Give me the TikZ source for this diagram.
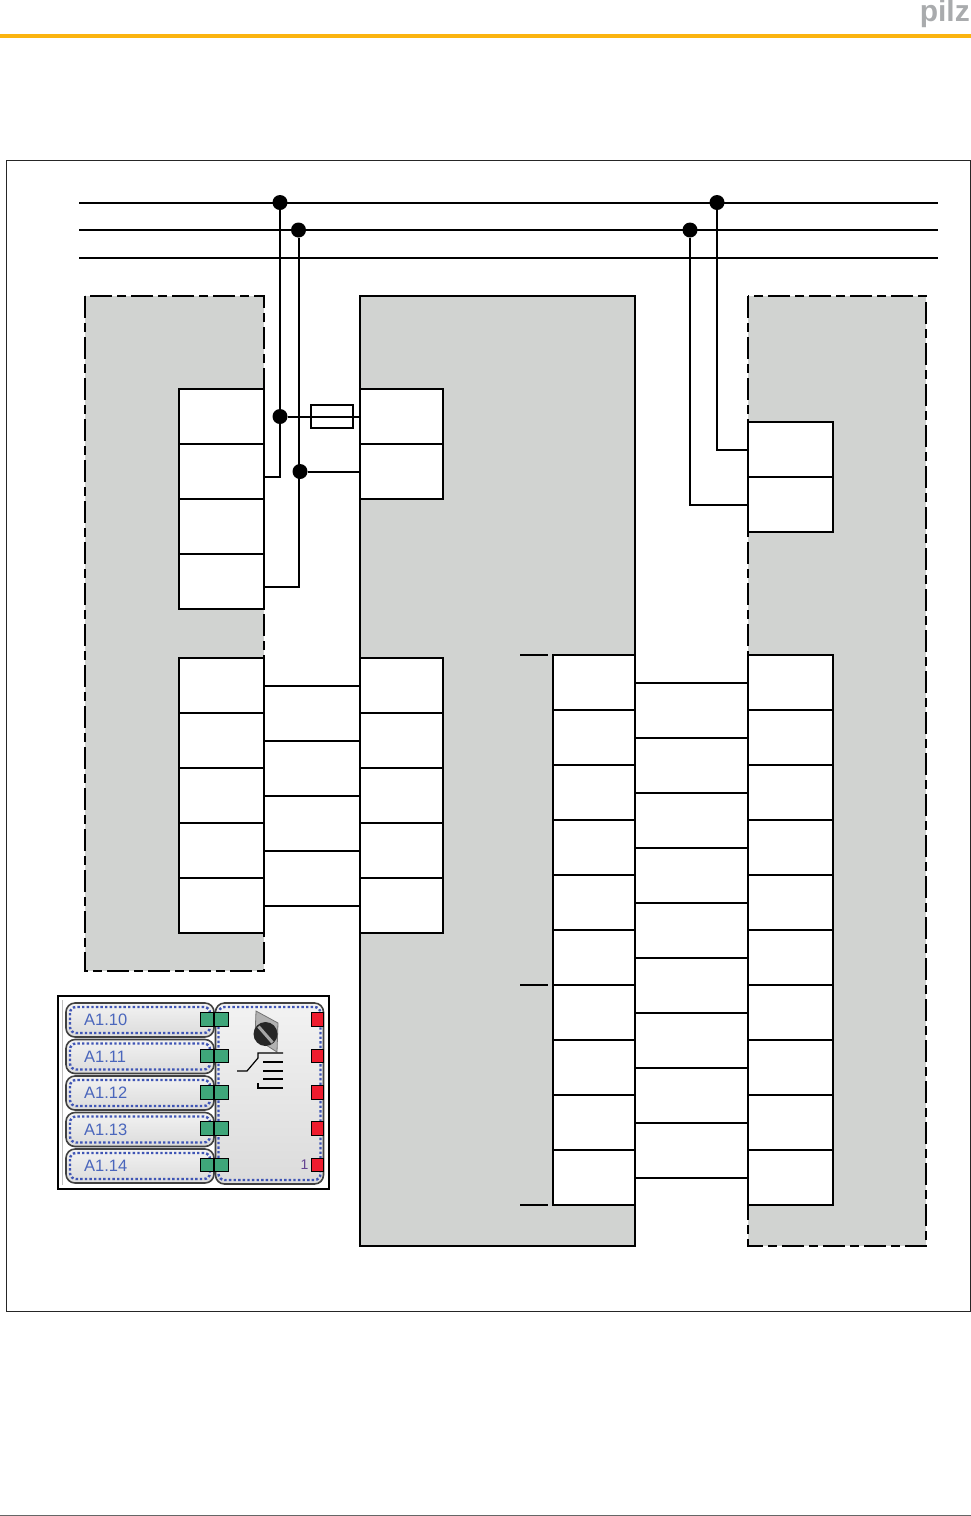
\documentclass[tikz,border=0pt]{standalone}
\usepackage{fontspec}
\setmainfont{Liberation Sans}
\definecolor{panelgray}{HTML}{D1D3D1}
\definecolor{pilzorange}{HTML}{FBB40F}
\definecolor{pilzgray}{HTML}{A9ABAD}
\definecolor{dotblue}{HTML}{3F55B5}
\definecolor{tagblue}{HTML}{4A66BC}
\definecolor{padgreen}{HTML}{3FA67A}
\definecolor{padred}{HTML}{EE1C2E}
\usetikzlibrary{positioning}
\tikzset{
  cell/.style={draw,line width=2pt,fill=white,minimum height=55pt,inner sep=0pt,outer sep=0pt},
  nwide/.style={cell,minimum width=85pt},
  nnarrow/.style={cell,minimum width=83pt},
  wire/.style={line width=2pt},
  junction/.style={circle,fill=black,inner sep=0pt,minimum size=15pt},
  panel/.style={fill=panelgray,line width=2.4pt},
  dashdot/.style={panel,dash pattern=on 22pt off 5pt on 9pt off 5pt},
  pill/.style={draw=black!75,line width=1.6pt,rounded corners=9pt,inner sep=0pt,outer sep=0pt,
    top color=white!95!black,bottom color=black!14},
  dotline/.style={draw=dotblue,line width=2.4pt,rounded corners=6pt,dash pattern=on 2.4pt off 2.2pt},
  pad/.style={draw=black,line width=1pt,inner sep=0pt,minimum size=13.5pt},
}
\begin{document}
\begin{tikzpicture}[x=1pt,y=-1pt]
  \useasboundingbox (0,0) rectangle (971,1516);
  % page furniture
  \fill[pilzorange] (0,33.5) rectangle (971,38);
  \draw[black!60,line width=1pt] (0,1515) -- (971,1515);
  \node[text=pilzgray,font=\bfseries\fontsize{30}{30}\selectfont,inner sep=0pt,anchor=base east] (logo) at (970,21.5) {pilz};
  \draw[black!85,line width=1pt] (6.5,160.5) rectangle (970.5,1311.5);

  % panels
  \draw[dashdot] (85,296) rectangle (264,971);
  \draw[panel] (360,296) rectangle (635,1246);
  \draw[dashdot] (748,296) rectangle (926,1246);

  % terminals
  \foreach \i in {1,...,4}
    \node[nwide] (lt\i) at (221.5,{389+55*(\i-.5)}) {};
  \foreach \i in {1,2}
    \node[nnarrow] (ct\i) at (401.5,{389+55*(\i-.5)}) {};
  \foreach \i in {1,2}
    \node[nwide] (rt\i) at (790.5,{422+55*(\i-.5)}) {};
  \foreach \i in {1,...,5} {
    \node[nwide] (ll\i) at (221.5,{658+55*(\i-.5)}) {};
    \node[nnarrow] (cl\i) at (401.5,{658+55*(\i-.5)}) {};
    \draw[wire] (ll\i.east) -- (cl\i.west);
  }
  \foreach \i in {1,...,10} {
    \node[nnarrow,minimum width=82pt] (col\i) at (594,{655+55*(\i-.5)}) {};
    \node[nwide] (rl\i) at (790.5,{655+55*(\i-.5)}) {};
    \draw[wire] (col\i.east) -- (rl\i.west);
  }

  % ticks left of the column
  \draw[wire] ([xshift=-33pt]col1.north west) -- ([xshift=-5pt]col1.north west);
  \draw[wire] ([xshift=-33pt]col7.north west) -- ([xshift=-5pt]col7.north west);
  \draw[wire] ([xshift=-33pt]col10.south west) -- ([xshift=-5pt]col10.south west);

  % bus
  \foreach \n/\y in {1/202.5,2/230,3/257.5} {
    \coordinate (bus\n w) at (79,\y);
    \coordinate (bus\n e) at (938,\y);
    \draw[wire] (bus\n w) -- (bus\n e);
  }
  \node[junction] (j1) at (280,202.5) {};
  \node[junction] (j2) at (298.5,230) {};
  \node[junction] (j3) at (717,202.5) {};
  \node[junction] (j4) at (690,230) {};
  \node[junction] (j5) at (280,416.5) {};
  \node[junction] (j6) at (300,471.5) {};
  \node[draw,line width=1.6pt,minimum width=42pt,minimum height=23pt,inner sep=0pt] (fuse) at (332,416.5) {};

  \draw[wire] (j1) |- ([yshift=-5.5pt]lt2.east);
  \draw[wire] (j2) |- ([yshift=-5.5pt]lt4.east);
  \draw[wire] (j3) |- (rt1.west);
  \draw[wire] (j4) |- (rt2.west);
  \draw[wire] (j5) -- (ct1.west);
  \draw[wire] (j6) -- (ct2.west);

  % inset
  \node[draw,line width=2pt,fill=white,minimum width=271pt,minimum height=193pt,inner sep=0pt] (inset) at (193.5,1092.5) {};
  \draw[black!25,line width=.8pt] (62,1000) -- (62,1185);
  \node[pill,minimum width=108pt,minimum height=181pt] (modul) at (269.5,1093.5) {};
  \draw[dotline] ([shift={(3pt,-4pt)}]modul.north west) rectangle ([shift={(-3pt,4pt)}]modul.south east);
  \foreach \i/\lab in {1/A1.10,2/A1.11,3/A1.12,4/A1.13,5/A1.14} {
    \node[pill,minimum width=148pt,minimum height=34pt] (tag\i) at (140,{1020+36.5*(\i-1)}) {};
    \draw[dotline] ([shift={(4pt,-4pt)}]tag\i.north west) rectangle ([shift={(-4pt,4pt)}]tag\i.south east);
    \node[anchor=west,inner sep=0pt,text=tagblue,font=\fontsize{16.5}{17}\selectfont] (lab\i) at ([xshift=18pt]tag\i.west) {\lab};
    \node[pad,fill=padgreen] (gl\i) at (207,{1019.5+36.4*(\i-1)}) {};
    \node[pad,fill=padgreen] (gr\i) at (221.5,{1019.5+36.4*(\i-1)}) {};
    \node[pad,fill=padred,minimum width=12pt,minimum height=13.5pt] (red\i) at (317.5,{1019.5+36.4*(\i-1)}) {};
  }
  \node[left=2.5pt of red5,inner sep=0pt,text=dotblue!80!red,font=\fontsize{14}{14}\selectfont] (num) {1};

  % rotary switch
  \fill[black!30,draw=black!55,line width=.8pt] (256,1011) -- (278,1023) -- (277,1052) -- (255,1038) -- cycle;
  \node[circle,fill=black!85,inner sep=0pt,minimum size=24pt] (knob) at (265.5,1034) {};
  \draw[white!65!black,line width=3pt] (258.5,1026.5) -- (272.5,1042.5);
  \draw[black,line width=1.2pt] (237,1071) -- (247,1071) -- (258,1058) -- (258,1053) -- (283,1053);
  \draw[black,line width=1.2pt] (263,1062) -- (283,1062) (263,1071) -- (283,1071) (263,1079) -- (283,1079);
  \draw[black,line width=1.2pt] (258,1083) -- (258,1088) -- (283,1088);
\end{tikzpicture}
\end{document}
